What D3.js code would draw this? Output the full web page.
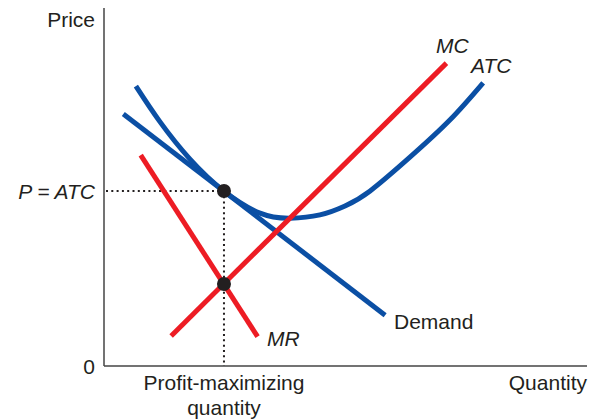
<!DOCTYPE html>
<html>
<head>
<meta charset="utf-8">
<script src="https://cdn.jsdelivr.net/npm/d3@7"></script>
<style>
  html, body { margin: 0; padding: 0; background: #fff; }
  svg { display: block; }
  text { font-family: "Liberation Sans", Arial, Helvetica, sans-serif; fill: #231f20; }
</style>
</head>
<body>
<script>
// ---- data (quantity 0-100, price 0-100 in chart units) ----
const demandQ = [4.0, 58.2];
const demandP = [70.4, 14.2];
const mrQ = [7.6, 31.8];
const mrP = [58.9, 8.2];
const mcQ = [13.9, 70.9];
const mcP = [8.4, 84.6];
const atcQ = [6.6, 11.6, 17.8, 24.8, 32.3, 38.5, 44.7, 49.9, 55.1, 63.4, 71.6, 78.5];
const atcP = [78.2, 68.2, 57.8, 48.9, 42.7, 41.3, 42.2, 44.7, 48.9, 58.4, 68.7, 79.1];
const qStar = 24.84;
const pStar = 48.9;   // P = ATC
const mrStar = 22.9;  // MR = MC
const labels = {
  yTitle: "Price", xTitle: "Quantity", zero: "0", pAtc: "P = ATC",
  qStar1: "Profit-maximizing", qStar2: "quantity",
  demand: "Demand", mr: "MR", mc: "MC", atc: "ATC"
};

const W = 596, H = 419;
const blue = "#0b4fa4", red = "#ed1c24", ink = "#231f20";
const fs = 21;

const x = d3.scaleLinear().domain([0, 100]).range([104, 587]);
const y = d3.scaleLinear().domain([0, 100]).range([366, 8]);

const svg = d3.select("body").append("svg").attr("width", W).attr("height", H);

// axes
svg.append("line").attr("x1", x(0)).attr("x2", x(0)).attr("y1", y(100)).attr("y2", y(0))
  .attr("stroke", "#444").attr("stroke-width", 1.5);
svg.append("line").attr("x1", x(0)).attr("x2", x(100)).attr("y1", y(0)).attr("y2", y(0))
  .attr("stroke", "#444").attr("stroke-width", 1.5);

// dotted guides
svg.append("line").attr("x1", x(0) + 2).attr("x2", x(qStar)).attr("y1", y(pStar)).attr("y2", y(pStar))
  .attr("stroke", ink).attr("stroke-width", 2).attr("stroke-dasharray", "2,3.3");
svg.append("line").attr("x1", x(qStar)).attr("x2", x(qStar)).attr("y1", y(pStar)).attr("y2", y(0))
  .attr("stroke", ink).attr("stroke-width", 2).attr("stroke-dasharray", "2,3.3");

const line = d3.line().x(d => x(d[0])).y(d => y(d[1]));
const lineC = d3.line().x(d => x(d[0])).y(d => y(d[1])).curve(d3.curveNatural);

function pts(qs, ps) { return qs.map((q, i) => [q, ps[i]]); }

svg.append("path").attr("d", line(pts(demandQ, demandP)))
  .attr("fill", "none").attr("stroke", blue).attr("stroke-width", 5);
svg.append("path").attr("d", lineC(pts(atcQ, atcP)))
  .attr("fill", "none").attr("stroke", blue).attr("stroke-width", 5);
svg.append("path").attr("d", line(pts(mrQ, mrP)))
  .attr("fill", "none").attr("stroke", red).attr("stroke-width", 5);
svg.append("path").attr("d", line(pts(mcQ, mcP)))
  .attr("fill", "none").attr("stroke", red).attr("stroke-width", 5);

// dots
svg.append("circle").attr("cx", x(qStar)).attr("cy", y(pStar)).attr("r", 7).attr("fill", ink);
svg.append("circle").attr("cx", x(qStar)).attr("cy", y(mrStar)).attr("r", 7).attr("fill", ink);

// texts
function txt(s, px, py, anchor, italic) {
  return svg.append("text").attr("x", px).attr("y", py).attr("text-anchor", anchor || "start")
    .attr("font-size", fs).attr("font-style", italic ? "italic" : "normal").text(s);
}
txt(labels.yTitle, 95, 27, "end");
txt(labels.pAtc, 95, y(pStar) + 8, "end", true).attr("xml:space", "preserve").style("white-space", "pre");
txt(labels.zero, 95, 374, "end");
txt(labels.qStar1, x(qStar), 390, "middle");
txt(labels.qStar2, x(qStar), 415, "middle");
txt(labels.xTitle, 587, 390, "end");
txt(labels.demand, 394, 329, "start");
txt(labels.mr, 267, 346, "start", true);
txt(labels.mc, 436, 53, "start", true);
txt(labels.atc, 471, 73, "start", true);
</script>
</body>
</html>
